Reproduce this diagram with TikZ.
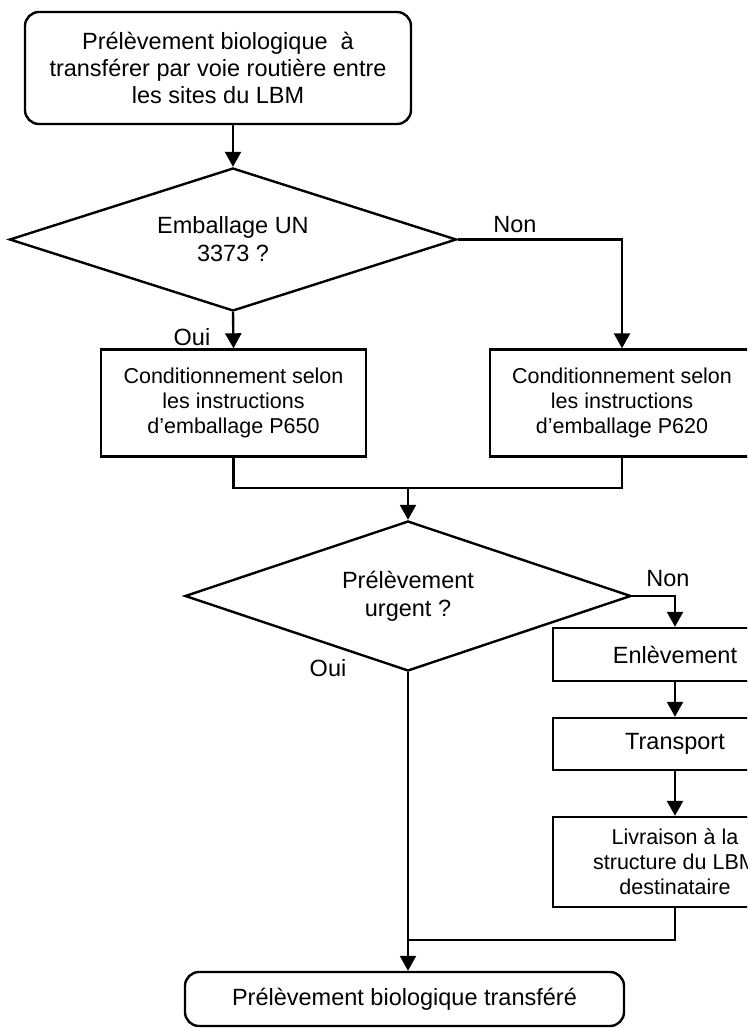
\documentclass[tikz,border=0pt]{standalone}
\usepackage{fontspec}
\setmainfont{Liberation Sans}
\usetikzlibrary{shapes.geometric,arrows.meta}

\begin{document}
\begin{tikzpicture}[
  x=1pt, y=-1pt,
  terminal/.style={draw, line width=2.4pt, rounded corners=14pt, align=center, font=\fontsize{23.5}{27}\selectfont},
  decision/.style={draw, line width=2.4pt, diamond, aspect=3, inner sep=0pt, align=center, font=\fontsize{23.5}{28}\selectfont},
  process/.style={draw, line width=2.4pt, align=center, font=\fontsize{23.5}{27}\selectfont},
  smallprocess/.style={process, font=\fontsize{21.5}{25}\selectfont},
  reply/.style={font=\fontsize{23.5}{27}\selectfont},
  flow/.style={line width=2.4pt, -{Triangle[width=16pt,length=15pt]}},
]
\useasboundingbox (0,0) rectangle (747,1028);
\clip (0,0) rectangle (747,1028);

\node[terminal, minimum width=386pt, minimum height=112pt] (start) at (218,68)
  {Prélèvement biologique~\ à\\transférer par voie routière entre\\les sites du LBM};
\node[decision, minimum width=447pt, minimum height=143pt] (emballage) at (233,239.5)
  {Emballage UN\\3373 ?};
\node[smallprocess, minimum width=265pt, minimum height=107pt] (p650) at (233.5,403)
  {Conditionnement selon\\les instructions\\d’emballage P650};
\node[smallprocess, minimum width=264pt, minimum height=107pt] (p620) at (622,403)
  {Conditionnement selon\\les instructions\\d’emballage P620};
\node[decision, minimum width=446pt, minimum height=150pt] (urgent) at (408,596)
  {Prélèvement\\urgent ?};
\node[process, minimum width=244pt, minimum height=53pt] (enlev) at (675,654.5) {Enlèvement};
\node[process, minimum width=244pt, minimum height=52pt] (transp) at (675,744) {Transport};
\node[smallprocess, minimum width=244pt, minimum height=90pt] (livr) at (675,862)
  {Livraison à la\\structure du LBM\\destinataire};
\node[terminal, minimum width=439pt, minimum height=54pt] (fin) at (404.5,999)
  {Prélèvement biologique transféré};

% answers
\node[reply] (non1) at (515,225) {Non};
\node[reply] (oui1) at (192,337) {Oui};
\node[reply] (non2) at (668,579) {Non};
\node[reply] (oui2) at (328,668) {Oui};

% junctions
\coordinate (j1) at (408,488);
\coordinate (j2) at (408,940);

\draw[flow] (emballage.north |- start.south) -- (emballage.north);
\draw[flow] (emballage.south) -- (p650.north);
\draw[flow] (emballage.east) -| (p620.north);
\draw[line width=2.4pt] (p650.south) |- (j1) -| (p620.south);
\draw[flow] (j1) -- (urgent.north);
\draw[flow] (urgent.east) -| (enlev.north);
\draw[flow] (enlev.south) -- (transp.north);
\draw[flow] (transp.south) -- (livr.north);
\draw[line width=2.4pt] (livr.south) |- (j2);
\draw[flow] (urgent.south) -- (urgent.south |- fin.north);
\end{tikzpicture}
\end{document}
